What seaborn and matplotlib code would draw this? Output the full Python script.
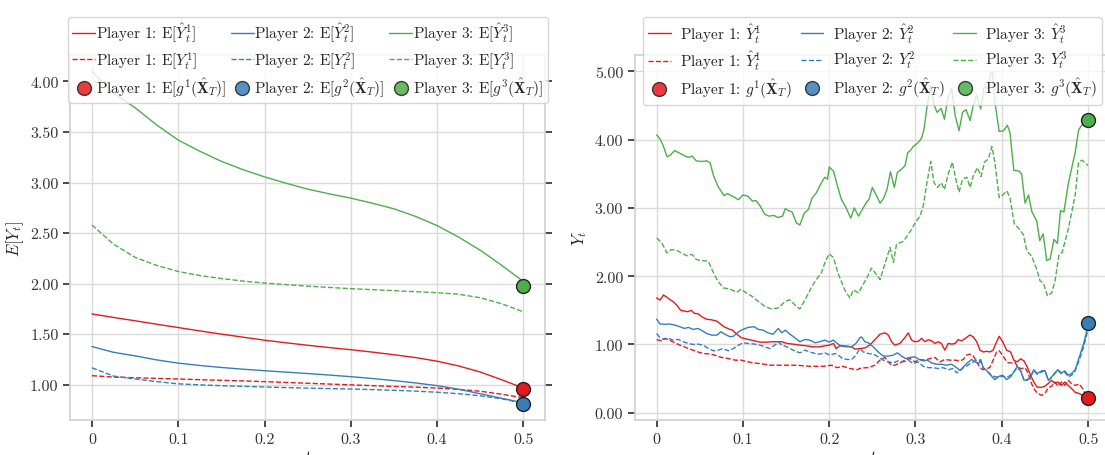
import numpy as np
import pandas as pd
import seaborn as sns
import matplotlib
matplotlib.use("Agg")
import matplotlib.pyplot as plt
from matplotlib.lines import Line2D
from matplotlib.ticker import FuncFormatter, MultipleLocator

# ---------------------------------------------------------------- data
players = ["Player 1", "Player 2", "Player 3"]
colors = ["#e41a1c", "#377eb8", "#4daf4a"]

# expected paths (left panel)
t_mean = [0.000, 0.025, 0.050, 0.075, 0.100, 0.125, 0.150, 0.175, 0.200, 0.225, 0.250,
          0.275, 0.300, 0.325, 0.350, 0.375, 0.400, 0.425, 0.450, 0.475, 0.500]
mean_hat_p1 = [1.700, 1.665, 1.632, 1.598, 1.565, 1.532, 1.500, 1.470, 1.440, 1.414, 1.390,
               1.367, 1.346, 1.322, 1.296, 1.268, 1.232, 1.185, 1.125, 1.048, 0.965]
mean_hat_p2 = [1.377, 1.320, 1.285, 1.245, 1.213, 1.190, 1.170, 1.153, 1.138, 1.124, 1.110,
               1.095, 1.079, 1.061, 1.040, 1.017, 0.990, 0.955, 0.910, 0.865, 0.820]
mean_hat_p3 = [4.100, 3.885, 3.740, 3.570, 3.420, 3.310, 3.210, 3.128, 3.056, 2.993, 2.935,
               2.888, 2.846, 2.795, 2.740, 2.665, 2.574, 2.460, 2.330, 2.180, 2.020]
mean_y_p1 = [1.089, 1.075, 1.068, 1.062, 1.056, 1.049, 1.043, 1.037, 1.030, 1.022, 1.014,
             1.006, 0.998, 0.990, 0.982, 0.975, 0.966, 0.953, 0.935, 0.905, 0.870]
mean_y_p2 = [1.167, 1.085, 1.056, 1.030, 1.008, 0.998, 0.990, 0.983, 0.977, 0.971, 0.966,
             0.961, 0.957, 0.951, 0.944, 0.936, 0.925, 0.910, 0.890, 0.860, 0.815]
mean_y_p3 = [2.580, 2.390, 2.260, 2.180, 2.120, 2.080, 2.050, 2.025, 2.005, 1.990, 1.975,
             1.962, 1.950, 1.940, 1.930, 1.920, 1.910, 1.895, 1.860, 1.800, 1.720]
mean_terminal = [0.96, 0.81, 1.98]

# single sample path (right panel), (t, value) pairs
path_hat_p1 = [(0, 1.68), (.004, 1.65), (.008, 1.725), (.012, 1.69), (.015, 1.66), (.019, 1.63),
    (.023, 1.58), (.028, 1.50), (.032, 1.49), (.036, 1.48), (.040, 1.50), (.044, 1.455),
    (.048, 1.45), (.053, 1.40), (.058, 1.37), (.064, 1.36), (.070, 1.34), (.073, 1.31),
    (.078, 1.26), (.084, 1.225), (.088, 1.21), (.093, 1.15), (.098, 1.10), (.104, 1.08),
    (.110, 1.064), (.114, 1.05), (.120, 1.034), (.127, 1.034), (.135, 1.04), (.145, 1.04),
    (.151, 1.015), (.158, 1.005), (.166, 0.99), (.174, 0.98), (.181, 0.965), (.189, 0.965),
    (.195, 0.98), (.200, 0.99), (.205, 1.015), (.208, 0.94), (.212, 0.98), (.216, 0.98),
    (.221, 0.975), (.226, 0.965), (.230, 0.93), (.2356, 0.94), (.2414, 0.95), (.247, 0.99),
    (.253, 1.07), (.2588, 1.15), (.2646, 1.17), (.2684, 1.14), (.2723, 1.04), (.276, 0.99),
    (.282, 1.015), (.2877, 1.10), (.2916, 1.17), (.2955, 1.064), (.2993, 1.04), (.304, 1.05),
    (.307, 1.09), (.311, 1.04), (.3148, 1.07), (.3186, 1.054), (.3225, 1.015), (.3264, 1.04),
    (.330, 1.015), (.334, 0.917), (.338, 1.015), (.342, 1.005), (.346, 1.015), (.3495, 1.07),
    (.3534, 1.054), (.359, 1.10), (.363, 1.14), (.367, 1.11), (.371, 1.04), (.3747, 0.917),
    (.3785, 0.89), (.3824, 0.90), (.386, 0.89), (.390, 0.917), (.394, 1.04), (.397, 1.12),
    (.401, 1.04), (.4056, 0.917), (.4102, 0.89), (.414, 0.77), (.418, 0.745), (.4218, 0.79),
    (.4257, 0.76), (.4295, 0.67), (.4334, 0.55), (.437, 0.45), (.441, 0.377), (.4461, 0.37),
    (.450, 0.39), (.454, 0.43), (.4577, 0.475), (.4616, 0.43), (.465, 0.45), (.469, 0.40),
    (.473, 0.45), (.477, 0.40), (.481, 0.353), (.485, 0.30), (.490, 0.28), (.495, 0.24),
    (.500, 0.21)]
path_hat_p2 = [(0, 1.37), (.004, 1.30), (.0097, 1.295), (.015, 1.30), (.021, 1.284), (.027, 1.26),
    (.032, 1.235), (.037, 1.25), (.042, 1.22), (.048, 1.235), (.053, 1.20), (.058, 1.16),
    (.064, 1.137), (.070, 1.137), (.0745, 1.186), (.079, 1.15), (.085, 1.113), (.089, 1.12),
    (.095, 1.186), (.100, 1.22), (.106, 1.25), (.113, 1.26), (.118, 1.22), (.1235, 1.21),
    (.129, 1.17), (.135, 1.15), (.141, 1.235), (.145, 1.17), (.149, 1.21), (.1545, 1.15),
    (.160, 1.10), (.166, 1.04), (.172, 1.074), (.1776, 1.064), (.1834, 1.025), (.189, 1.04),
    (.195, 1.064), (.200, 1.034), (.2047, 1.064), (.2093, 1.015), (.2143, 0.975), (.220, 0.966),
    (.226, 0.966), (.231, 1.015), (.2356, 1.10), (.2375, 1.11), (.2414, 1.04), (.2452, 1.025),
    (.251, 0.966), (.2568, 0.89), (.2626, 0.83), (.2684, 0.83), (.274, 0.843), (.279, 0.877),
    (.2839, 0.83), (.2885, 0.794), (.2935, 0.81), (.2993, 0.82), (.304, 0.78), (.309, 0.76),
    (.314, 0.77), (.3186, 0.73), (.3244, 0.71), (.330, 0.71), (.336, 0.696), (.342, 0.71),
    (.3476, 0.66), (.3515, 0.62), (.3554, 0.67), (.360, 0.73), (.365, 0.78), (.369, 0.745),
    (.373, 0.72), (.3755, 0.78), (.3785, 0.66), (.3824, 0.62), (.387, 0.55), (.392, 0.485),
    (.397, 0.534), (.401, 0.55), (.4056, 0.485), (.4102, 0.525), (.414, 0.598), (.418, 0.68),
    (.4218, 0.62), (.4257, 0.475), (.4295, 0.485), (.4334, 0.525), (.437, 0.63), (.441, 0.574),
    (.4461, 0.613), (.450, 0.62), (.454, 0.475), (.4577, 0.525), (.4616, 0.584), (.465, 0.63),
    (.469, 0.584), (.473, 0.613), (.477, 0.55), (.481, 0.574), (.485, 0.63), (.490, 0.82),
    (.495, 1.02), (.500, 1.28)]
path_hat_p3 = [(0, 4.07), (.004, 4.01), (.008, 3.90), (.012, 3.75), (.015, 3.765), (.021, 3.84),
    (.027, 3.80), (.033, 3.76), (.037, 3.74), (.041, 3.76), (.046, 3.69), (.052, 3.68),
    (.058, 3.69), (.062, 3.66), (.066, 3.47), (.071, 3.32), (.078, 3.18), (.082, 3.21),
    (.088, 3.17), (.095, 3.12), (.100, 3.19), (.106, 3.17), (.111, 3.10), (.115, 3.11),
    (.120, 3.03), (.125, 2.91), (.130, 2.88), (.136, 2.89), (.140, 2.86), (.146, 2.88),
    (.149, 2.99), (.153, 2.96), (.157, 2.94), (.162, 2.78), (.166, 2.75), (.171, 2.92),
    (.176, 2.98), (.180, 3.14), (.185, 3.22), (.191, 3.37), (.195, 3.45), (.198, 3.42),
    (.200, 3.60), (.205, 3.54), (.210, 3.30), (.214, 3.13), (.220, 2.99), (.225, 2.85),
    (.229, 3.00), (.234, 2.88), (.2385, 2.98), (.2435, 3.09), (.246, 3.12), (.250, 3.30),
    (.254, 3.20), (.259, 3.07), (.263, 3.14), (.267, 3.27), (.271, 3.53), (.2755, 3.30),
    (.279, 3.52), (.284, 3.57), (.288, 3.62), (.291, 3.81), (.294, 3.84), (.2975, 3.90),
    (.3025, 3.95), (.307, 4.02), (.310, 4.16), (.313, 4.45), (.3175, 4.79), (.3215, 4.51),
    (.325, 4.40), (.3297, 4.46), (.3335, 4.30), (.3375, 4.61), (.342, 4.75), (.346, 4.35),
    (.3505, 4.13), (.3545, 4.40), (.3585, 4.44), (.3633, 4.28), (.367, 4.51), (.371, 4.65),
    (.3756, 4.45), (.3795, 4.77), (.3837, 4.75), (.387, 4.97), (.389, 5.00), (.392, 4.55),
    (.397, 4.12), (.402, 4.13), (.4065, 4.21), (.4095, 4.10), (.414, 3.55), (.420, 3.54),
    (.423, 3.50), (.427, 3.07), (.431, 3.19), (.435, 2.94), (.4405, 2.81), (.444, 2.52),
    (.448, 2.62), (.452, 2.23), (.456, 2.25), (.4605, 2.54), (.4645, 2.48), (.468, 2.96),
    (.472, 2.94), (.477, 3.35), (.485, 3.81), (.489, 4.14), (.493, 4.22), (.500, 4.19)]
path_y_p1 = [(0, 1.07), (.006, 1.054), (.0097, 1.09), (.015, 1.064), (.021, 1.025), (.027, 0.99),
    (.032, 0.966), (.037, 0.94), (.042, 0.917), (.048, 0.89), (.054, 0.868), (.062, 0.86),
    (.0676, 0.843), (.075, 0.81), (.083, 0.794), (.091, 0.77), (.098, 0.77), (.106, 0.745),
    (.112, 0.73), (.120, 0.72), (.131, 0.696), (.147, 0.696), (.162, 0.696), (.178, 0.68),
    (.193, 0.68), (.203, 0.696), (.209, 0.66), (.216, 0.68), (.224, 0.647), (.232, 0.63),
    (.2375, 0.657), (.245, 0.66), (.253, 0.696), (.2588, 0.77), (.2646, 0.81), (.2684, 0.745),
    (.2723, 0.696), (.276, 0.696), (.282, 0.73), (.2877, 0.77), (.2935, 0.794), (.2993, 0.745),
    (.305, 0.78), (.311, 0.77), (.3167, 0.794), (.3225, 0.81), (.3283, 0.745), (.334, 0.78),
    (.340, 0.77), (.3457, 0.77), (.3515, 0.76), (.3554, 0.78), (.359, 0.843), (.363, 0.858),
    (.367, 0.83), (.371, 0.745), (.3747, 0.66), (.3785, 0.63), (.3824, 0.647), (.386, 0.66),
    (.390, 0.77), (.394, 0.89), (.397, 0.907), (.401, 0.843), (.404, 0.78), (.4075, 0.73),
    (.4114, 0.73), (.415, 0.745), (.419, 0.66), (.423, 0.647), (.427, 0.66), (.4307, 0.574),
    (.4345, 0.426), (.4384, 0.328), (.4423, 0.28), (.446, 0.255), (.450, 0.28), (.454, 0.368),
    (.4577, 0.387), (.4616, 0.45), (.465, 0.387), (.469, 0.45), (.473, 0.40), (.477, 0.475),
    (.481, 0.426), (.485, 0.40), (.490, 0.42), (.495, 0.33), (.500, 0.13)]
path_y_p2 = [(0, 1.16), (.004, 1.10), (.008, 1.074), (.0135, 1.09), (.019, 1.064), (.025, 1.074),
    (.031, 1.04), (.037, 1.015), (.042, 1.00), (.048, 1.005), (.054, 0.99), (.060, 0.94),
    (.066, 0.907), (.0715, 0.917), (.077, 0.94), (.083, 0.907), (.089, 0.94), (.095, 0.99),
    (.100, 1.025), (.106, 1.015), (.1139, 1.005), (.120, 0.99), (.1255, 0.966), (.131, 0.94),
    (.137, 0.99), (.141, 1.04), (.145, 0.99), (.149, 0.975), (.1545, 0.94), (.160, 0.907),
    (.166, 0.877), (.172, 0.917), (.1776, 0.89), (.1834, 0.868), (.189, 0.858), (.195, 0.877),
    (.2008, 0.843), (.2066, 0.868), (.2105, 0.843), (.2155, 0.794), (.221, 0.78), (.226, 0.78),
    (.231, 0.843), (.2356, 0.94), (.2395, 0.89), (.2452, 0.868), (.251, 0.858), (.2568, 0.82),
    (.2626, 0.77), (.2684, 0.745), (.274, 0.73), (.280, 0.76), (.2858, 0.745), (.2916, 0.77),
    (.2974, 0.72), (.3032, 0.745), (.309, 0.68), (.3148, 0.66), (.3206, 0.66), (.3264, 0.647),
    (.332, 0.66), (.338, 0.63), (.3437, 0.647), (.3476, 0.584), (.3515, 0.613), (.3554, 0.66),
    (.359, 0.68), (.363, 0.72), (.367, 0.745), (.371, 0.77), (.3747, 0.77), (.3785, 0.66),
    (.3824, 0.613), (.387, 0.564), (.392, 0.525), (.397, 0.525), (.401, 0.534), (.4056, 0.515),
    (.4102, 0.55), (.414, 0.598), (.418, 0.66), (.4218, 0.613), (.4257, 0.485), (.4295, 0.475),
    (.4334, 0.525), (.437, 0.62), (.441, 0.564), (.4461, 0.598), (.450, 0.613), (.454, 0.475),
    (.4577, 0.515), (.4616, 0.574), (.465, 0.62), (.469, 0.574), (.473, 0.598), (.477, 0.525),
    (.481, 0.55), (.485, 0.613), (.490, 0.78), (.495, 0.97), (.500, 1.22)]
path_y_p3 = [(0, 2.56), (.006, 2.49), (.012, 2.34), (.017, 2.39), (.023, 2.38), (.029, 2.34),
    (.035, 2.30), (.041, 2.32), (.046, 2.245), (.052, 2.23), (.060, 2.22), (.064, 2.10),
    (.070, 1.95), (.077, 1.83), (.085, 1.81), (.093, 1.765), (.098, 1.81), (.104, 1.755),
    (.110, 1.71), (.118, 1.63), (.125, 1.56), (.133, 1.52), (.141, 1.535), (.149, 1.63),
    (.154, 1.655), (.162, 1.56), (.166, 1.52), (.172, 1.655), (.180, 1.85), (.185, 1.95),
    (.191, 2.05), (.195, 2.20), (.200, 2.33), (.205, 2.27), (.210, 2.05), (.218, 1.80),
    (.224, 1.68), (.228, 1.80), (.234, 1.755), (.238, 1.85), (.2435, 1.97), (.249, 2.12),
    (.255, 2.02), (.259, 1.95), (.265, 2.20), (.2705, 2.42), (.2745, 2.20), (.278, 2.47),
    (.286, 2.51), (.2957, 2.69), (.2995, 2.78), (.3053, 2.88), (.309, 3.03), (.313, 3.35),
    (.3177, 3.68), (.3215, 3.37), (.3255, 3.30), (.330, 3.37), (.3335, 3.27), (.338, 3.50),
    (.3428, 3.67), (.3467, 3.42), (.3505, 3.23), (.3545, 3.42), (.3595, 3.45), (.3633, 3.30),
    (.367, 3.47), (.3718, 3.59), (.376, 3.46), (.380, 3.67), (.3845, 3.72), (.3885, 3.90),
    (.392, 3.67), (.397, 3.15), (.402, 3.20), (.4058, 3.25), (.4095, 3.15), (.4146, 2.76),
    (.419, 2.71), (.425, 2.61), (.429, 2.37), (.4347, 2.29), (.4405, 2.10), (.4444, 1.93),
    (.4482, 1.90), (.453, 1.71), (.4578, 1.755), (.4617, 1.93), (.4664, 2.32), (.470, 2.35),
    (.477, 2.69), (.485, 3.18), (.489, 3.67), (.493, 3.70), (.500, 3.62)]
path_terminal = [0.22, 1.32, 4.29]
t_end = 0.5

# ---------------------------------------------------------------- style
sns.set_theme(style="whitegrid")
plt.rcParams.update({
    "font.family": "serif",
    "font.serif": ["cmr10"],
    "mathtext.fontset": "cm",
    "axes.formatter.use_mathtext": True,
    "font.size": 11,
    "axes.labelsize": 12,
    "xtick.labelsize": 11.5,
    "ytick.labelsize": 11.5,
    "xtick.bottom": True,
    "ytick.left": True,
    "ytick.right": True,
    "xtick.major.size": 5,
    "ytick.major.size": 5,
    "xtick.color": ".2",
    "ytick.color": ".2",
    "axes.edgecolor": ".82",
    "grid.color": ".86",
    "axes.unicode_minus": False,
})

fig = plt.figure(figsize=(11.05, 4.56), dpi=100)
ax_l = fig.add_axes([0.0637, 0.0757, 0.4295, 0.802])
ax_r = fig.add_axes([0.5747, 0.0757, 0.4295, 0.802])

LW = 1.0


def draw_line(ax, t, y, color, dashed):
    sns.lineplot(x=t, y=y, ax=ax, color=color, linewidth=LW, estimator=None,
                 linestyle="--" if dashed else "-", legend=False)


def draw_end(ax, value, color):
    sns.scatterplot(x=[t_end], y=[value], ax=ax, color=color, s=100,
                    edgecolor="#222222", linewidth=1.0, zorder=5, legend=False)


# left panel: expectations
for hat, plain, end, c in zip([mean_hat_p1, mean_hat_p2, mean_hat_p3],
                              [mean_y_p1, mean_y_p2, mean_y_p3],
                              mean_terminal, colors):
    draw_line(ax_l, t_mean, hat, c, False)
    draw_line(ax_l, t_mean, plain, c, True)
    draw_end(ax_l, end, c)

# right panel: one trajectory
for hat, plain, end, c in zip([path_hat_p1, path_hat_p2, path_hat_p3],
                              [path_y_p1, path_y_p2, path_y_p3],
                              path_terminal, colors):
    th, yh = zip(*hat)
    tp, yp = zip(*plain)
    draw_line(ax_r, list(th), list(yh), c, False)
    draw_line(ax_r, list(tp), list(yp), c, True)
    draw_end(ax_r, end, c)

fmt_t = FuncFormatter(lambda v, _: f"{v:g}")
fmt_y = FuncFormatter(lambda v, _: f"{v:.2f}")
for ax in (ax_l, ax_r):
    ax.xaxis.set_major_locator(MultipleLocator(0.1))
    ax.xaxis.set_major_formatter(fmt_t)
    ax.yaxis.set_major_formatter(fmt_y)
    ax.set_xlabel("$t$", labelpad=2)
ax_l.yaxis.set_major_locator(MultipleLocator(0.5))
ax_r.yaxis.set_major_locator(MultipleLocator(1.0))
ax_l.set_ylabel("$E[Y_t]$", labelpad=3)
ax_r.set_ylabel("$Y_t$", labelpad=4)


def legend_handles(labels_fn):
    handles, labels = [], []
    for i, (name, c) in enumerate(zip(players, colors), start=1):
        solid, dashed, dot = labels_fn(i)
        handles.append(Line2D([], [], color=c, lw=LW))
        labels.append(f"{name}: {solid}")
        handles.append(Line2D([], [], color=c, lw=LW, ls="--"))
        labels.append(f"{name}: {dashed}")
        handles.append(Line2D([], [], color=c, marker="o", ls="none", markersize=10,
                              markeredgecolor="#222222", markeredgewidth=1.0, alpha=0.85))
        labels.append(f"{name}: {dot}")
    return handles, labels


h_l, l_l = legend_handles(lambda i: (rf"$\mathrm{{E}}[{{\hat{{Y}}}}_t^{{{i}}}]$",
                                     rf"$\mathrm{{E}}[Y_t^{{{i}}}]$",
                                     rf"$\mathrm{{E}}[g^{{{i}}}(\hat{{\mathbf{{X}}}}_T)]$"))
ax_l.legend(h_l, l_l, ncol=3, loc="upper center", bbox_to_anchor=(0.5, 1.125),
            fontsize=11, handlelength=1.5, handletextpad=0.05, columnspacing=0.3,
            labelspacing=0.3, borderpad=0.3, framealpha=0.8)

h_r, l_r = legend_handles(lambda i: (rf"${{\hat{{Y}}}}_t^{{{i}}}$",
                                     rf"${{\hat{{Y}}}}_t^{{{i}}}$" if i == 1 else rf"$Y_t^{{{i}}}$",
                                     rf"$g^{{{i}}}(\hat{{\mathbf{{X}}}}_T)$"))
ax_r.legend(h_r, l_r, ncol=3, loc="upper center", bbox_to_anchor=(0.5, 1.125),
            fontsize=11, handlelength=1.5, handletextpad=0.6, columnspacing=0.6,
            labelspacing=0.3, borderpad=0.3, framealpha=0.8)

fig.savefig("out.png", dpi=100)
